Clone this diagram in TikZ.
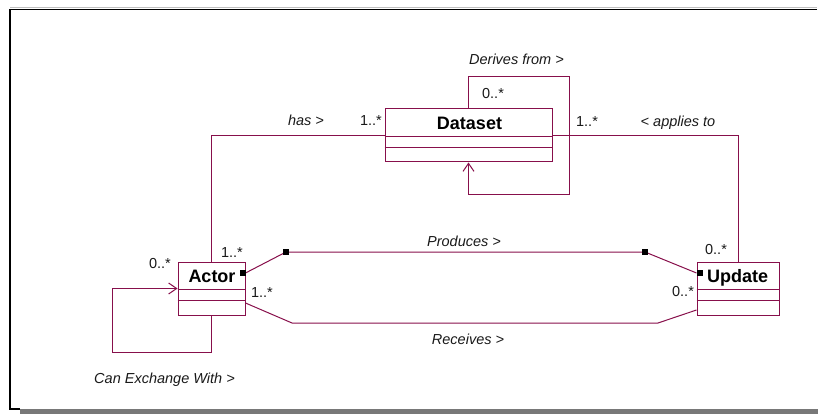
\documentclass[tikz,border=0pt]{standalone}
\usepackage{fontspec}
\setmainfont{Liberation Sans}
\usetikzlibrary{arrows.meta}
\definecolor{umlline}{RGB}{135,15,75}
\definecolor{shadowgray}{RGB}{120,120,120}
\begin{document}
\begin{tikzpicture}[x=1pt,y=-1pt,
  classbox/.style={draw=umlline, line width=1pt, minimum height=53pt, inner sep=0pt},
  classname/.style={anchor=base, inner sep=0pt, font=\fontsize{18}{20}\selectfont\bfseries},
  assoc/.style={draw=umlline, line width=1pt},
  lbl/.style={anchor=base, inner sep=0pt, text=black!90, font=\fontsize{14.5}{17}\selectfont\itshape},
  mult/.style={anchor=base, inner sep=0pt, text=black!90, font=\fontsize{14.5}{17}\selectfont},
  handle/.style={fill=black, draw=none, minimum width=6pt, minimum height=6.5pt, inner sep=0pt},
  navarrow/.style={-{Straight Barb[length=8pt,width=11pt,line width=1pt]}}
]
\useasboundingbox (0,0) rectangle (818,414);
% frame
\draw[black!25, line width=0.8pt] (10,7.5) -- (817,7.5);
\draw[black, line width=1.2pt] (817,9.5) -- (10,9.5) -- (10,409) -- (20,409);
\fill[shadowgray] (20,408.5) rectangle (818,414);

% classes
\node[classbox, minimum width=167pt] (dataset) at (468.5,135.5) {};
\node[classbox, minimum width=67pt] (actor) at (211.5,288.5) {};
\node[classbox, minimum width=82pt] (update) at (738,288.5) {};
\foreach \c in {dataset,actor,update}{
  \draw[umlline, line width=1pt] ([yshift=-28pt]\c.north west) -- ([yshift=-28pt]\c.north east);
  \draw[umlline, line width=1pt] ([yshift=-39pt]\c.north west) -- ([yshift=-39pt]\c.north east);
}
\node[classname] (dname) at (469.5,130) {Dataset};
\node[classname] (aname) at (212,282) {Actor};
\node[classname] (uname) at (737.5,282) {Update};

% coordinates for bends
\coordinate (dA) at (569,77);
\coordinate (dB) at (569,194);
\coordinate (aA) at (112,352);
\coordinate (p1) at (286,252);
\coordinate (p2) at (645,252);
\coordinate (r1) at (292,323);
\coordinate (r2) at (658,323);
\coordinate (pa) at ([yshift=15.5pt]actor.east);
\coordinate (pu) at ([yshift=15.5pt]update.west);
\coordinate (ra) at ([yshift=-14.5pt]actor.east);
\coordinate (ru) at ([yshift=-21.5pt]update.west);

% has
\draw[assoc] (actor.north) |- (dataset.west);
% applies to
\draw[assoc] (dataset.east) -| (update.north);
% derives from (self)
\draw[assoc, navarrow] (dataset.north) |- (dA) -- (dB) -| (dataset.south);
% can exchange with (self)
\draw[assoc, navarrow] (actor.south) |- (aA) |- (actor.west);
% produces
\draw[assoc] (pa) -- (p1) -- (p2) -- (pu);
\node[handle] (h1) at ([xshift=-3pt]pa) {};
\node[handle] (h2) at (p1) {};
\node[handle] (h3) at (p2) {};
\node[handle] (h4) at ([xshift=3pt]pu) {};
% receives
\draw[assoc] (ra) -- (r1) -- (r2) -- (ru);

% labels
\node[lbl] (l1) at (516.5,65) {Derives from >};
\node[mult] (m1) at (493,99) {0..*};
\node[lbl] (l2) at (306,126) {has >};
\node[mult] (m2) at (371,126) {1..*};
\node[mult] (m3) at (587,127) {1..*};
\node[lbl] (l3) at (678,127) {< applies to};
\node[mult] (m4) at (716,254) {0..*};
\node[mult] (m5) at (683,296) {0..*};
\node[mult] (m6) at (160,268) {0..*};
\node[mult] (m7) at (232,257) {1..*};
\node[mult] (m8) at (262,297) {1..*};
\node[lbl] (l4) at (464,246) {Produces >};
\node[lbl] (l5) at (468,344) {Receives >};
\node[lbl] (l6) at (164.5,383) {Can Exchange With >};
\end{tikzpicture}
\end{document}
